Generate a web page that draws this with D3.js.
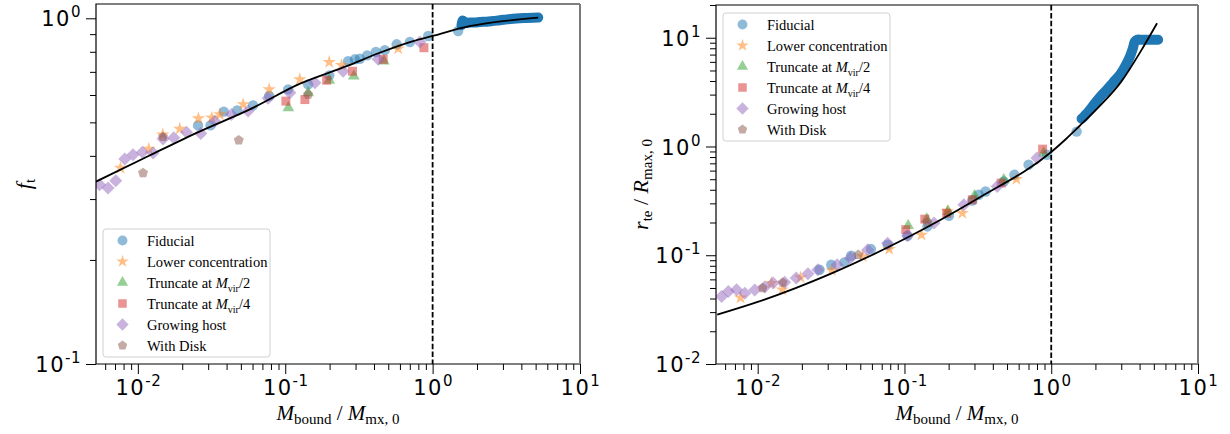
<!DOCTYPE html>
<html>
<head>
<meta charset="utf-8">
<script src="https://cdn.jsdelivr.net/npm/d3@7"></script>
<style>
	body { margin: 0; background: #fff; }
	.c-svg { width: 1230px; height: 434px; }
	.tick text { font-family: "DejaVu Sans", sans-serif; font-size: 21px; letter-spacing: 1.5px; fill: #000; }
</style>
</head>
<body>
<div class="c-svg"></div>
<script>

//DATA
//-------------------------------------------------------------------------

//x ticks shared by both panels
const xMajor = [0.01, 0.1, 1, 10];

//left panel : f_t vs M_bound / M_mx,0
const fiducialFt = [[0.0256,0.490],[0.0311,0.490],[0.0383,0.537],[0.0472,0.541],[0.0605,0.560],[0.0778,0.596],[0.1047,0.623],[0.143,0.644],[0.199,0.684],[0.267,0.752],[0.297,0.761],[0.321,0.764],[0.360,0.781],[0.412,0.799],[0.474,0.809],[0.570,0.841],[0.701,0.854],[0.933,0.889],[1.49,0.919]];
const fiducialFtTrack = [[1.57,0.955],[1.60,0.985],[1.68,0.970],[1.80,0.972],[1.95,0.973],[2.10,0.976],[2.33,0.978],[2.60,0.983],[2.86,0.987],[3.20,0.993],[3.52,0.997],[3.90,1.000],[4.35,1.002],[4.80,1.004],[5.21,1.005]];
const lowerConcFt = [[0.00762,0.369],[0.01186,0.419],[0.01476,0.461],[0.01924,0.479],[0.02576,0.513],[0.03175,0.516],[0.0360,0.527],[0.0518,0.564],[0.0778,0.623],[0.1256,0.666],[0.1987,0.747],[0.241,0.732],[0.584,0.817]];
const trunc2Ft = [[0.105,0.551],[0.143,0.609],[0.199,0.662],[0.292,0.680],[0.467,0.752]];
const trunc4Ft = [[0.101,0.576],[0.136,0.582],[0.191,0.662],[0.286,0.703],[0.462,0.761],[0.873,0.822]];
const growingFt = [[0.0055,0.330],[0.00628,0.323],[0.00708,0.339],[0.00815,0.392],[0.00927,0.403],[0.01074,0.410],[0.01268,0.408],[0.01482,0.448],[0.01753,0.451],[0.02138,0.468],[0.02673,0.464],[0.03325,0.504],[0.04318,0.527],[0.0560,0.539],[0.0765,0.587],[0.1074,0.609],[0.159,0.651],[0.247,0.703],[0.427,0.761],[0.820,0.854]];
const diskFt = [[0.01084,0.357],[0.0148,0.454],[0.0484,0.444],[0.143,0.602]];
const fitFt = [[0.0052,0.337],[0.012,0.401],[0.0264,0.471],[0.0575,0.545],[0.126,0.647],[0.261,0.727],[0.438,0.795],[0.738,0.859],[1.0,0.889],[1.61,0.940],[2.72,0.976],[5.21,1.005]];

//right panel : r_te / R_max,0 vs M_bound / M_mx,0
const fiducialRte = [[0.0264,0.0736],[0.0317,0.0818],[0.039,0.0859],[0.0433,0.099],[0.0591,0.114],[0.0768,0.125],[0.105,0.151],[0.1434,0.184],[0.201,0.231],[0.290,0.319],[0.321,0.360],[0.357,0.386],[0.475,0.477],[0.561,0.549],[0.701,0.679],[0.935,0.839],[1.49,1.37]];
const fiducialRteTrack = [[1.61,1.80],[1.68,1.90],[1.75,2.02],[1.85,2.20],[1.94,2.40],[2.15,2.85],[2.39,3.32],[2.65,3.90],[2.94,4.56],[3.20,5.50],[3.44,6.72],[3.60,8.0],[3.71,9.23],[3.85,9.6],[4.02,9.6],[4.5,9.6],[5.0,9.6],[5.35,9.6]];
const lowerConcRte = [[0.00764,0.0407],[0.0124,0.0555],[0.01473,0.0482],[0.0196,0.0625],[0.032,0.0725],[0.052,0.0975],[0.0787,0.114],[0.1306,0.154],[0.196,0.253],[0.248,0.244],[0.579,0.501]];
const trunc2Rte = [[0.106,0.187],[0.142,0.215],[0.198,0.253],[0.300,0.352],[0.475,0.494],[0.887,0.870]];
const trunc4Rte = [[0.102,0.172],[0.1376,0.215],[0.194,0.244],[0.290,0.324],[0.456,0.461],[0.873,0.946]];
const growingRte = [[0.00568,0.0418],[0.00631,0.0465],[0.00718,0.0482],[0.00817,0.0448],[0.00955,0.0480],[0.01117,0.0510],[0.01274,0.0555],[0.01527,0.0565],[0.0183,0.0617],[0.0220,0.0676],[0.0257,0.0736],[0.0348,0.0818],[0.0428,0.0942],[0.0562,0.112],[0.0768,0.129],[0.105,0.151],[0.159,0.198],[0.254,0.291],[0.428,0.429],[0.80,0.782]];
const diskRte = [[0.0108,0.0500],[0.0148,0.0560],[0.0484,0.101],[0.143,0.200]];
const fitRte = [[0.0053,0.0284],[0.01,0.0372],[0.0316,0.0678],[0.1,0.141],[0.316,0.333],[1.0,0.89],[1.25,1.16],[1.57,1.56],[2.0,2.15],[2.39,2.75],[3.0,3.95],[4.02,7.3],[5.26,13.6]];

//legend labels
const seriesNames = ["Fiducial", "Lower concentration", "Truncate at", "Truncate at", "Growing host", "With Disk"];


//INITIALISATION
//-------------------------------------------------------------------------

const serif = "'Liberation Serif', 'DejaVu Serif', serif";

const svg = d3.select(".c-svg")
	.append("svg")
	.attr("width", 1230)
	.attr("height", 434);

//pentagon symbol (matplotlib "p")
const symbolPentagon = {
	draw(ctx, size) {
		const r = Math.sqrt(size / (2.5 * Math.sin(2 * Math.PI / 5)));
		for (let i = 0; i < 5; i++) {
			const a = -Math.PI / 2 + i * 2 * Math.PI / 5;
			if (i === 0) ctx.moveTo(r * Math.cos(a), r * Math.sin(a));
			else ctx.lineTo(r * Math.cos(a), r * Math.sin(a));
		}
		ctx.closePath();
	}
};

//style for each series
const styles = [
	{color: "#1f77b4", type: d3.symbolCircle, size: 85, rot: 0},
	{color: "#ff7f0e", type: d3.symbolStar, size: 55, rot: 0},
	{color: "#2ca02c", type: d3.symbolTriangle, size: 60, rot: 0},
	{color: "#d62728", type: d3.symbolSquare, size: 80, rot: 0},
	{color: "#9467bd", type: d3.symbolSquare, size: 85, rot: 45},
	{color: "#8c564b", type: symbolPentagon, size: 65, rot: 0}
];

const panels = [
	{
		left: 96, right: 580, top: 4, bottom: 364,
		xDomain: [0.0052, 10], yDomain: [0.1, 1.1],
		yMajor: [0.1, 1],
		series: [fiducialFt, lowerConcFt, trunc2Ft, trunc4Ft, growingFt, diskFt],
		track: fiducialFtTrack, fit: fitFt,
		legend: {x: 103, y: 229},
		ylabel: {x: 31, parts: [["f", "it", 22], ["t", "sub", 15]]}
	},
	{
		left: 716, right: 1198, top: 5, bottom: 364,
		xDomain: [0.0052, 10], yDomain: [0.01, 20],
		yMajor: [0.01, 0.1, 1, 10],
		series: [fiducialRte, lowerConcRte, trunc2Rte, trunc4Rte, growingRte, diskRte],
		track: fiducialRteTrack, fit: fitRte,
		legend: {x: 723, y: 13},
		ylabel: {x: 648, parts: [["r", "it", 22], ["te", "sub", 15], [" / ", "rm", 22], ["R", "it", 22], ["max, 0", "sub", 15]]}
	}
];

//minor ticks 2..9 for each decade inside domain
function minorTicks(domain) {
	const out = [];
	for (let e = -3; e <= 1; e++) {
		for (let k = 2; k <= 9; k++) {
			const v = k * Math.pow(10, e);
			if (v >= domain[0] && v <= domain[1]) out.push(v);
		}
	}
	return out;
}

//"10^n" labels with tspans
function powLabel(text) {
	text.each(function(d) {
		const e = Math.round(Math.log10(d));
		const t = d3.select(this).text(null);
		t.append("tspan").text("10");
		t.append("tspan").attr("dy", -9).attr("font-size", "15px").attr("letter-spacing", "0.5px").text(e);
	});
}

//math label from parts [text, style, size]
function mathText(sel, parts) {
	let sub = false;
	parts.forEach((p) => {
		const ts = sel.append("tspan").text(p[0]).attr("font-size", p[2] + "px");
		if (p[1] === "it") ts.attr("font-style", "italic");
		if (p[1] === "sub" && !sub) { ts.attr("dy", 4); sub = true; }
		else if (p[1] !== "sub" && sub) { ts.attr("dy", -4); sub = false; }
	});
}


//PANELS
//-------------------------------------------------------------------------

panels.forEach((p) => {

	const x = d3.scaleLog().domain(p.xDomain).range([p.left, p.right]);
	const y = d3.scaleLog().domain(p.yDomain).range([p.bottom, p.top]);

	const g = svg.append("g");

	//clip to the axes box
	const clipId = "clip" + p.left;
	g.append("clipPath").attr("id", clipId)
		.append("rect")
		.attr("x", p.left).attr("y", p.top)
		.attr("width", p.right - p.left).attr("height", p.bottom - p.top);

	const plot = g.append("g").attr("clip-path", `url(#${clipId})`);

	//scatter series
	p.series.forEach((data, i) => {
		const s = styles[i];
		plot.append("g")
			.selectAll("path")
			.data(data)
			.join("path")
			.attr("d", d3.symbol().type(s.type).size(s.size))
			.attr("transform", d => `translate(${x(d[0])},${y(d[1])}) rotate(${s.rot})`)
			.attr("fill", s.color)
			.attr("fill-opacity", 0.5);
	});

	//dense fiducial track after x = 1
	plot.append("path")
		.datum(p.track)
		.attr("d", d3.line().x(d => x(d[0])).y(d => y(d[1])).curve(d3.curveCatmullRom))
		.attr("fill", "none")
		.attr("stroke", "#1f77b4")
		.attr("stroke-width", 10)
		.attr("stroke-linecap", "round")
		.attr("stroke-linejoin", "round");

	//fit line
	plot.append("path")
		.datum(p.fit)
		.attr("d", d3.line().x(d => x(d[0])).y(d => y(d[1])).curve(d3.curveMonotoneX))
		.attr("fill", "none")
		.attr("stroke", "#000")
		.attr("stroke-width", 1.8);

	//dashed line at 1
	g.append("line")
		.attr("x1", x(1)).attr("x2", x(1))
		.attr("y1", p.top).attr("y2", p.bottom)
		.attr("stroke", "#000")
		.attr("stroke-width", 1.8)
		.attr("stroke-dasharray", "5.5,2.4");

	//AXIS
	//-------------------------------------------------------------------------
	g.append("g")
		.attr("transform", `translate(0 ${p.bottom})`)
		.call(d3.axisBottom(x).tickValues(minorTicks(p.xDomain)).tickSize(6).tickFormat("").tickSizeOuter(0))
		.call(a => a.select(".domain").remove());

	g.append("g")
		.attr("transform", `translate(0 ${p.bottom})`)
		.call(d3.axisBottom(x).tickValues(xMajor).tickSize(10).tickSizeOuter(0))
		.call(a => a.select(".domain").remove())
		.selectAll("text")
		.attr("y", 16.5)
		.call(powLabel);

	g.append("g")
		.attr("transform", `translate(${p.left} 0)`)
		.call(d3.axisLeft(y).tickValues(minorTicks(p.yDomain)).tickSize(6).tickFormat("").tickSizeOuter(0))
		.call(a => a.select(".domain").remove());

	g.append("g")
		.attr("transform", `translate(${p.left} 0)`)
		.call(d3.axisLeft(y).tickValues(p.yMajor).tickSize(10).tickSizeOuter(0))
		.call(a => a.select(".domain").remove())
		.selectAll("text")
		.attr("x", -15)
		.attr("dy", "0.36em")
		.call(powLabel);

	g.selectAll(".tick line").attr("stroke", "#000").attr("stroke-width", 1);

	//spines
	g.append("path")
		.attr("d", `M${p.right},${p.top}H${p.left}V${p.bottom}H${p.right}`)
		.attr("fill", "none").attr("stroke", "#000").attr("stroke-width", 1.2);
	g.append("line")
		.attr("x1", p.right).attr("x2", p.right)
		.attr("y1", p.top).attr("y2", p.bottom)
		.attr("stroke", "#7a7a7a").attr("stroke-width", 2);

	//axis labels
	const xl = g.append("text")
		.attr("font-family", serif)
		.attr("x", (p.left + p.right) / 2)
		.attr("y", 420)
		.attr("text-anchor", "middle");
	mathText(xl, [["M", "it", 21], ["bound", "sub", 15], [" / ", "rm", 21], ["M", "it", 21], ["mx, 0", "sub", 15]]);

	const yl = g.append("text")
		.attr("font-family", serif)
		.attr("transform", `translate(${p.ylabel.x} ${(p.top + p.bottom) / 2}) rotate(-90)`)
		.attr("text-anchor", "middle");
	mathText(yl, p.ylabel.parts);

	//LEGEND
	//-------------------------------------------------------------------------
	const lg = g.append("g").attr("transform", `translate(${p.legend.x} ${p.legend.y})`);
	lg.append("rect")
		.attr("width", 167).attr("height", 128)
		.attr("rx", 3)
		.attr("fill", "#fff").attr("fill-opacity", 0.8)
		.attr("stroke", "#d0d0d0");

	seriesNames.forEach((name, i) => {
		const s = styles[i];
		const ry = 11.5 + i * 21;
		lg.append("path")
			.attr("d", d3.symbol().type(s.type).size(s.size * 0.9))
			.attr("transform", `translate(19.5 ${ry}) rotate(${s.rot})`)
			.attr("fill", s.color)
			.attr("fill-opacity", 0.5);
		const t = lg.append("text")
			.attr("font-family", serif)
			.attr("x", 44)
			.attr("y", ry + 5)
			.attr("font-size", "14.5px");
		if (i === 2 || i === 3) {
			mathText(t, [[name + " ", "rm", 14.5], ["M", "it", 14.5], ["vir", "sub", 10], ["/" + (i === 2 ? "2" : "4"), "rm", 14.5]]);
		} else {
			t.text(name);
		}
	});
});

</script>
</body>
</html>
